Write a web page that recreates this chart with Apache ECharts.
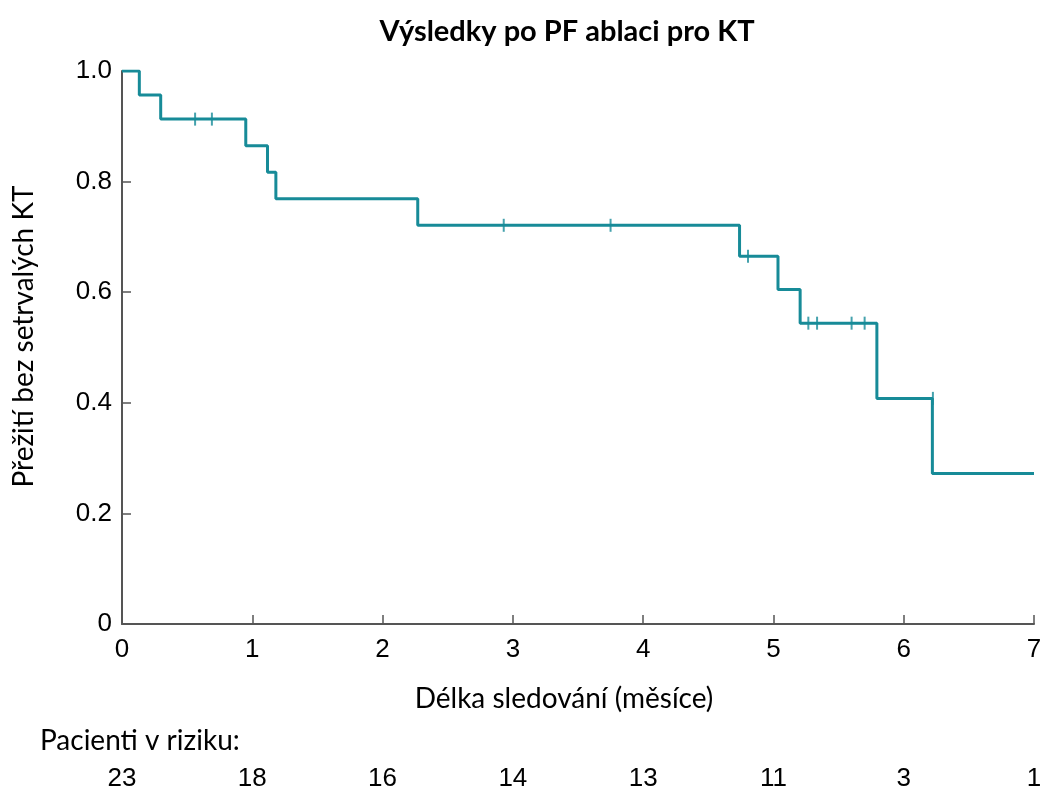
<!DOCTYPE html>
<html><head><meta charset="utf-8">
<script src="https://cdn.jsdelivr.net/npm/echarts@6/dist/echarts.min.js"></script>
<style>html,body{margin:0;padding:0;background:#fff}#c{width:1048px;height:794px}</style>
</head><body><div id="c"></div>
<script>
// Kaplan-Meier step points [months, survival]
var kmTimes    = [0, 0.133, 0.297, 0.95, 1.117, 1.181, 2.27, 4.74, 5.035, 5.205, 5.794, 6.22, 7.0];
var kmSurvival = [1.0, 0.9565, 0.913, 0.865, 0.817, 0.769, 0.721, 0.665, 0.605, 0.544, 0.408, 0.272, 0.272];
// censored observations
var censorTimes    = [0.561, 0.69, 2.93, 3.75, 4.805, 5.268, 5.335, 5.60, 5.70, 6.224];
var censorSurvival = [0.913, 0.913, 0.721, 0.721, 0.665, 0.544, 0.544, 0.544, 0.544, 0.408];
// at-risk table
var riskMonths = [0, 1, 2, 3, 4, 5, 6, 7];
var atRisk     = [23, 18, 16, 14, 13, 11, 3, 1];

var teal = '#178b98';
var axisCol = '#555';
var chart = echarts.init(document.getElementById('c'));
chart.setOption({
  animation: false,
  backgroundColor: '#fff',
  title: [{
    text: 'Výsledky po PF ablaci pro KT', left: 562, top: 12, textAlign: 'center',
    textStyle: {fontFamily: 'Lato', fontWeight: 'bold', fontSize: 29, color: '#000'}
  }, {
    text: 'Pacienti v riziku:', left: 35, top: 722,
    textStyle: {fontFamily: 'Lato', fontWeight: 'normal', fontSize: 28, color: '#000'}
  }],
  grid: {left: 122, right: 14, top: 71, bottom: 170},
  xAxis: [{
    type: 'value', min: 0, max: 7, interval: 1,
    name: 'Délka sledování (měsíce)', nameLocation: 'middle', nameGap: 61,
    nameTextStyle: {fontFamily: 'Lato', fontSize: 28, color: '#000', padding: [0, 28, 0, 0]},
    axisLine: {show: true, lineStyle: {color: axisCol, width: 2}},
    axisTick: {show: true, inside: true, length: 9, lineStyle: {color: axisCol, width: 1.5}},
    axisLabel: {fontFamily: 'Liberation Sans', fontSize: 26, color: '#000', margin: 13},
    splitLine: {show: false}
  }, {
    type: 'value', min: 0, max: 7, interval: 1, position: 'bottom', offset: 142,
    axisLine: {show: false}, axisTick: {show: false}, splitLine: {show: false},
    axisLabel: {fontFamily: 'Liberation Sans', fontSize: 26, color: '#000', margin: 0,
      formatter: function (v) { var i = riskMonths.indexOf(Math.round(v)); return i >= 0 ? String(atRisk[i]) : ''; }}
  }],
  yAxis: {
    type: 'value', min: 0, max: 1, interval: 0.2,
    name: 'Přežití bez setrvalých KT', nameLocation: 'middle', nameGap: 84,
    nameTextStyle: {fontFamily: 'Lato', fontSize: 28, color: '#000', padding: [0, 0, 0, 22]},
    axisLine: {show: true, lineStyle: {color: axisCol, width: 2}},
    axisTick: {show: true, inside: true, length: 9, lineStyle: {color: axisCol, width: 1.5}},
    axisLabel: {fontFamily: 'Liberation Sans', fontSize: 26, color: '#000', margin: 10,
      formatter: function (v) { return v === 0 ? '0' : v.toFixed(1); }},
    splitLine: {show: false}
  },
  series: [{
    type: 'line', step: 'end', xAxisIndex: 0, symbol: 'none',
    lineStyle: {color: teal, width: 3},
    data: kmTimes.map(function (t, i) { return [t, kmSurvival[i]]; })
  }, {
    type: 'scatter', xAxisIndex: 0, symbol: 'rect', symbolSize: [2, 13],
    itemStyle: {color: teal},
    data: censorTimes.map(function (t, i) { return [t, censorSurvival[i]]; })
  }]
});
</script></body></html>
